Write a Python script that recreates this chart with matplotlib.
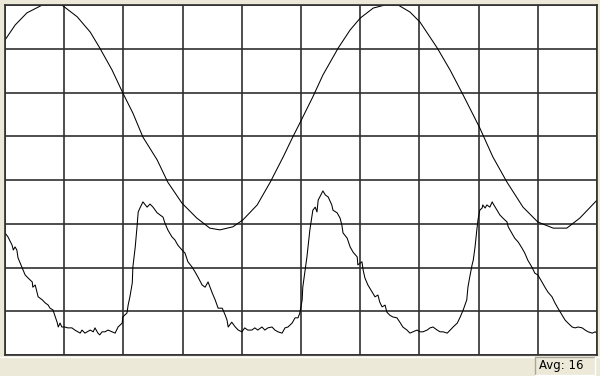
import matplotlib
matplotlib.use("Agg")
import matplotlib.pyplot as plt
from matplotlib.patches import Rectangle
from matplotlib.lines import Line2D

# screen is 10 x 8 divisions, values below are in divisions
sine_x = [0.00, 0.17, 0.37, 0.63, 0.96, 1.22, 1.44, 1.60, 1.81, 1.99, 2.16, 2.33,
          2.57, 2.75, 2.99, 3.24, 3.46, 3.63, 3.85, 4.02, 4.26, 4.48, 4.70, 4.86,
          4.98, 5.20, 5.37, 5.63, 5.83, 6.00, 6.22, 6.42, 6.64, 6.84, 7.01, 7.30,
          7.52, 7.74, 8.02, 8.24, 8.48, 8.75, 9.00, 9.26, 9.49, 9.71, 10.00]
sine_y = [7.20, 7.54, 7.82, 8.00, 8.00, 7.73, 7.38, 7.02, 6.51, 5.99, 5.53, 4.98,
          4.46, 3.95, 3.47, 3.13, 2.90, 2.86, 2.93, 3.09, 3.43, 3.95, 4.53, 4.98,
          5.30, 5.90, 6.40, 7.02, 7.43, 7.70, 7.93, 8.00, 8.00, 7.84, 7.61, 7.02,
          6.51, 5.94, 5.19, 4.53, 3.95, 3.38, 3.04, 2.90, 2.90, 3.13, 3.54]

pulse_x = [0.00, 0.05, 0.12, 0.14, 0.17, 0.20, 0.22, 0.29, 0.34, 0.39, 0.46, 0.47,
           0.51, 0.54, 0.56, 0.63, 0.68, 0.73, 0.76, 0.81, 0.84, 0.88, 0.90, 0.93,
           0.96, 1.01, 1.06, 1.13, 1.18, 1.23, 1.27, 1.30, 1.35, 1.39, 1.44, 1.49,
           1.52, 1.57, 1.60, 1.64, 1.69, 1.74, 1.81, 1.86, 1.91, 1.98, 1.99, 2.06,
           2.08, 2.11, 2.15, 2.16, 2.20, 2.23, 2.25, 2.28, 2.33, 2.40, 2.45, 2.50,
           2.57, 2.62, 2.67, 2.70, 2.75, 2.82, 2.87, 2.92, 2.99, 3.04, 3.09, 3.16,
           3.21, 3.26, 3.33, 3.38, 3.43, 3.50, 3.55, 3.60, 3.67, 3.72, 3.75, 3.77,
           3.83, 3.89, 3.94, 4.00, 4.05, 4.10, 4.17, 4.22, 4.27, 4.34, 4.39, 4.44,
           4.51, 4.56, 4.61, 4.68, 4.73, 4.78, 4.85, 4.90, 4.95, 4.98, 5.02, 5.03,
           5.10, 5.15, 5.20, 5.24, 5.27, 5.29, 5.35, 5.37, 5.41, 5.46, 5.52, 5.54,
           5.61, 5.66, 5.69, 5.71, 5.78, 5.83, 5.88, 5.95, 5.96, 6.03, 6.05, 6.08,
           6.13, 6.20, 6.25, 6.30, 6.33, 6.37, 6.42, 6.45, 6.50, 6.55, 6.62, 6.67,
           6.72, 6.79, 6.84, 6.89, 6.96, 7.01, 7.06, 7.13, 7.18, 7.23, 7.30, 7.35,
           7.40, 7.47, 7.52, 7.57, 7.64, 7.69, 7.74, 7.80, 7.82, 7.85, 7.89, 7.91,
           7.94, 7.97, 7.99, 8.02, 8.06, 8.07, 8.11, 8.14, 8.19, 8.23, 8.24, 8.31,
           8.36, 8.41, 8.48, 8.50, 8.56, 8.61, 8.67, 8.73, 8.78, 8.83, 8.90, 8.95,
           9.00, 9.07, 9.12, 9.17, 9.24, 9.29, 9.34, 9.41, 9.46, 9.51, 9.58, 9.63,
           9.68, 9.75, 9.80, 9.85, 9.92, 9.97, 10.00]
pulse_y = [2.79, 2.70, 2.51, 2.40, 2.47, 2.40, 2.22, 1.99, 1.83, 1.76, 1.67, 1.55,
           1.60, 1.44, 1.33, 1.26, 1.19, 1.14, 1.07, 1.03, 0.91, 0.75, 0.64, 0.73,
           0.64, 0.64, 0.62, 0.62, 0.57, 0.53, 0.50, 0.57, 0.50, 0.53, 0.57, 0.53,
           0.62, 0.50, 0.46, 0.53, 0.53, 0.57, 0.53, 0.50, 0.64, 0.73, 0.87, 0.96,
           1.14, 1.33, 1.65, 2.01, 2.47, 2.93, 3.27, 3.36, 3.50, 3.38, 3.45, 3.38,
           3.25, 3.20, 3.15, 3.02, 2.86, 2.70, 2.63, 2.51, 2.40, 2.33, 2.13, 2.01,
           1.90, 1.78, 1.60, 1.55, 1.67, 1.42, 1.26, 1.07, 1.07, 0.91, 0.80, 0.64,
           0.75, 0.64, 0.57, 0.53, 0.62, 0.57, 0.57, 0.62, 0.57, 0.64, 0.57, 0.62,
           0.64, 0.57, 0.53, 0.50, 0.62, 0.64, 0.73, 0.85, 0.85, 0.96, 1.26, 1.55,
           2.24, 2.86, 3.31, 3.38, 3.27, 3.54, 3.70, 3.75, 3.66, 3.61, 3.43, 3.31,
           3.25, 3.13, 2.97, 2.79, 2.67, 2.47, 2.35, 2.24, 2.06, 2.13, 1.94, 1.76,
           1.60, 1.44, 1.33, 1.37, 1.21, 1.10, 1.14, 0.98, 0.91, 0.87, 0.85, 0.75,
           0.64, 0.57, 0.50, 0.53, 0.57, 0.53, 0.53, 0.57, 0.62, 0.64, 0.57, 0.53,
           0.53, 0.50, 0.57, 0.64, 0.73, 0.87, 1.03, 1.26, 1.55, 1.78, 2.06, 2.17,
           2.47, 2.86, 3.09, 3.31, 3.36, 3.43, 3.36, 3.43, 3.38, 3.50, 3.47, 3.31,
           3.20, 3.13, 3.04, 2.93, 2.79, 2.67, 2.58, 2.45, 2.33, 2.17, 2.01, 1.87,
           1.83, 1.67, 1.55, 1.44, 1.33, 1.19, 1.07, 0.91, 0.80, 0.73, 0.64, 0.62,
           0.64, 0.62, 0.57, 0.53, 0.50, 0.53, 0.50]

x_divs = list(range(0, 11))
y_divs = list(range(0, 9))
avg_count = 16

W, H = 600, 376
fig = plt.figure(figsize=(W / 100, H / 100), dpi=100)
fig.patch.set_facecolor('#ECE9D8')

ax = fig.add_axes([5 / W, (H - 355) / H, 592 / W, 350 / H])
ax.set_facecolor('white')
ax.set_xlim(x_divs[0], x_divs[-1])
ax.set_ylim(y_divs[0], y_divs[-1])
ax.set_xticks(x_divs)
ax.set_yticks(y_divs)
ax.tick_params(length=0, labelbottom=False, labelleft=False)
ax.grid(True, color='#303030', linewidth=1.2)
ax.set_axisbelow(True)
for s in ax.spines.values():
    s.set_color('#303030')
    s.set_linewidth(1.2)

ax.plot(sine_x, sine_y, color='black', linewidth=0.75)
ax.plot(pulse_x, pulse_y, color='black', linewidth=0.75)

# status bar
fig.add_artist(Line2D([0, 1], [(H - 356.5) / H] * 2, color='white', linewidth=1,
                      transform=fig.transFigure))
box_l, box_b, box_w, box_h = 535 / W, 1 / H, 60 / W, 18 / H
fig.add_artist(Rectangle((box_l, box_b), box_w, box_h, transform=fig.transFigure,
                         facecolor='#ECE9D8', edgecolor='none'))
fig.add_artist(Line2D([box_l, box_l, box_l + box_w], [box_b, box_b + box_h, box_b + box_h],
                      color='#ACA899', linewidth=1, transform=fig.transFigure))
fig.add_artist(Line2D([box_l, box_l + box_w, box_l + box_w], [box_b, box_b, box_b + box_h],
                      color='white', linewidth=1, transform=fig.transFigure))
fig.text(539 / W, box_b + box_h / 2, f'Avg: {avg_count}', fontsize=8.5,
         family='DejaVu Sans', va='center', ha='left', color='black')

fig.savefig('out.png', dpi=100, facecolor=fig.get_facecolor())
